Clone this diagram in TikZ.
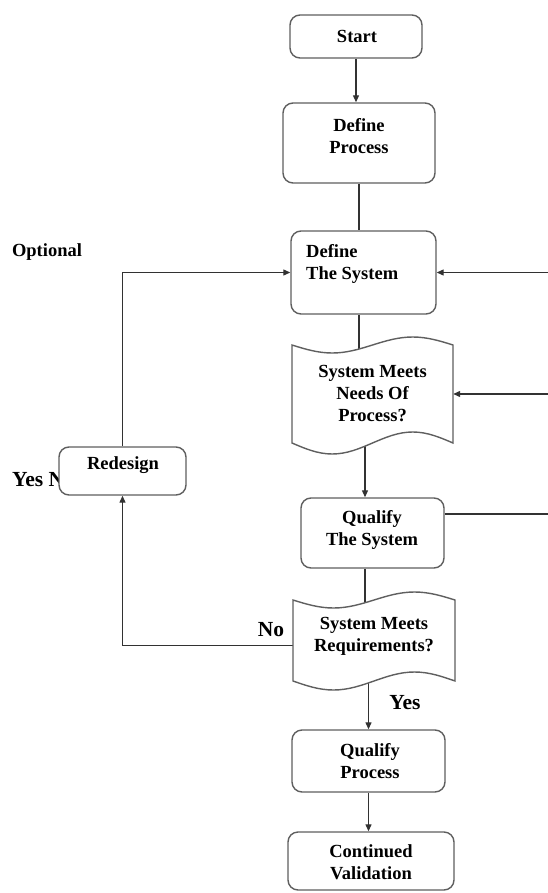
\documentclass[tikz,border=0pt]{standalone}
\usepackage{fontspec}
\setmainfont{Liberation Serif}
\usetikzlibrary{arrows.meta,backgrounds}
\definecolor{edgecol}{RGB}{95,95,95}
\definecolor{conncol}{RGB}{50,50,50}
\tikzset{
  box/.style={draw=edgecol, line width=1.4pt, rounded corners=10pt, fill=white, inner sep=0pt},
  lbl/.style={font=\fontsize{18.5}{22}\selectfont\bfseries, align=center, inner sep=0pt, text=black},
  biglbl/.style={lbl, font=\fontsize{21.5}{24}\selectfont\bfseries},
  link/.style={draw=conncol, line width=1.2pt},
  arr/.style={link, -{Triangle[length=7pt,width=6pt]}},
  tapestyle/.style={draw=edgecol, line width=1.4pt, fill=white},
}
\newcommand\tapeshape[6]{%
  \pgfmathsetmacro\tapew{#2-#1}%
  \path[tapestyle] (#1,#3) sin ({#1+\tapew/4},{#3+#4}) cos ({#1+\tapew/2},#3)
     sin ({#1+3*\tapew/4},{#3-#4}) cos (#2,#3) -- (#2,#5)
     sin ({#2-\tapew/4},{#5-#6}) cos ({#2-\tapew/2},#5)
     sin ({#2-3*\tapew/4},{#5+#6}) cos (#1,#5) -- cycle;}
\begin{document}
\begin{tikzpicture}[x=1pt,y=-1pt]
\useasboundingbox (0,0) rectangle (548,893);
% free labels
\node[lbl] (optional) at (47,252) {Optional};
\node[biglbl, anchor=west] (yesn) at (12,480) {Yes N};
\node[biglbl] (nolbl) at (271,630) {No};
\node[biglbl] (yeslbl) at (405,703) {Yes};
% boxes
\node[box, minimum width=132pt, minimum height=43pt] (start) at (356,36.5) {};
\node[lbl] (startt) at (357,36) {Start};
\node[box, minimum width=152pt, minimum height=80pt] (dp) at (359,143) {};
\node[lbl] (dpt) at (359,136) {Define\\Process};
\node[box, minimum width=145pt, minimum height=83pt] (dst) at (363.5,272.5) {};
\node[lbl, anchor=west, align=left] (dstt) at (306,263.5) {Define\\The System};
% tape 1
\tapeshape{292}{453}{345}{8}{443}{11}
\node[lbl, minimum width=161pt] (doc1) at (372.5,394) {System Meets\\Needs Of\\Process?};
\node[box, minimum width=143pt, minimum height=70pt] (qs) at (372.5,533) {};
\node[lbl] (qst) at (372,530) {Qualify\\The System};
% tape 2
\tapeshape{293}{455}{600}{8}{681}{9}
\node[lbl, minimum width=162pt] (doc2) at (374,636.5) {System Meets\\Requirements?};
\node[box, minimum width=153pt, minimum height=62pt] (qp) at (368.5,761) {};
\node[lbl] (qpt) at (370,761.5) {Qualify\\Process};
\node[box, minimum width=166pt, minimum height=58pt] (cv) at (371,861) {};
\node[lbl] (cvt) at (371,862) {Continued\\Validation};
\node[box, minimum width=127pt, minimum height=48pt] (red) at (122.5,471) {};
\node[lbl] (redt) at (123,465) {Redesign};
% helper coordinates
\coordinate (rt) at (548,0);
\coordinate (j1) at (365,0);
\coordinate (q1) at ([yshift=19pt]qs.east);
% connectors
\begin{scope}[on background layer]
\draw[arr] (start.south) -- (start.south |- dp.north);
\draw[link] (dp.south) -- (dp.south |- dst.north);
\draw[link] (dp.south |- dst.south) -- (dp.south |- doc1.center);
\draw[arr] (rt |- dst.east) -- (dst.east);
\draw[arr] (red.north) |- (dst.west);
\draw[arr] (rt |- doc1.east) -- (doc1.east);
\draw[arr] (j1 |- doc1.center) -- (j1 |- qs.north);
\draw[link] (q1) -- (rt |- q1);
\draw[link] (j1 |- qs.south) -- (j1 |- doc2.center);
\draw[arr] ([yshift=-9pt]doc2.west) -| (red.south);
\draw[arr] (qp.north |- doc2.center) -- (qp.north);
\draw[arr] (qp.south) -- (qp.south |- cv.north);
\end{scope}
\end{tikzpicture}
\end{document}
